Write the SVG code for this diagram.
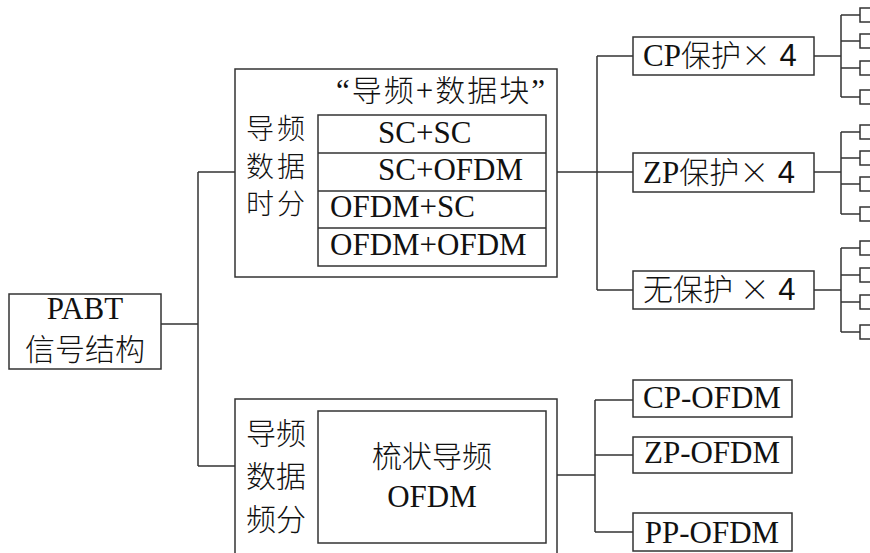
<svg xmlns="http://www.w3.org/2000/svg" width="870" height="553" viewBox="0 0 870 553">
<style>
.box{fill:#fff;stroke:#333;stroke-width:1.5}
.ln{fill:none;stroke:#333;stroke-width:1.5}
.lat{font-family:"Liberation Serif","Times New Roman",serif;font-size:31px;fill:#111}
.cjk{font-family:"Noto Sans CJK SC","Noto Sans",sans-serif;font-size:30px;fill:#111;font-weight:300}
.side{font-size:28px;letter-spacing:3px}
.num{font-family:"Liberation Sans",Arial,sans-serif;font-size:31px;fill:#111}
</style>
<rect width="870" height="553" fill="#fff"/>
<g id="connectors" class="ln">
<path d="M161 324H198M198 172V466M198 172H235M198 466H235"/>
<path d="M557 172H597M597 56V290M597 56H633M597 172H633M597 290H633"/>
<path d="M814 56H841M841 15V97M841 15H860M841 41H860M841 68H860M841 97H860"/>
<path d="M814 172H841M841 132V214M841 132H860M841 158H860M841 184H860M841 214H860"/>
<path d="M814 290H841M841 248V332M841 248H860M841 275H860M841 302H860M841 332H860"/>
<path d="M557 475H595M595 400V532M595 400H633M595 455H633M595 532H633"/>
</g>
<g id="pabt">
<rect class="box" x="9" y="294" width="152" height="75"/>
<text class="lat" x="85" y="319" text-anchor="middle">PABT</text>
<text class="cjk" x="85" y="360" text-anchor="middle">信号结构</text>
</g>
<g id="tdm">
<rect class="box" x="235" y="69" width="322" height="208"/>
<text x="336" y="101" textLength="209"><tspan class="lat">“</tspan><tspan class="cjk">导频</tspan><tspan class="lat">+</tspan><tspan class="cjk">数据块</tspan><tspan class="lat">”</tspan></text>
<text class="cjk side"><tspan x="246" y="139">导频</tspan><tspan x="246" y="177">数据</tspan><tspan x="246" y="214">时分</tspan></text>
<rect class="box" x="318" y="115" width="228" height="151"/>
<path class="ln" d="M318 153H546M318 191H546M318 228H546"/>
<text class="lat" x="378" y="143">SC+SC</text>
<text class="lat" x="378" y="180">SC+OFDM</text>
<text class="lat" x="330" y="217">OFDM+SC</text>
<text class="lat" x="330" y="255">OFDM+OFDM</text>
</g>
<g id="cp">
<rect class="box" x="633" y="37" width="181" height="38"/>
<text x="643" y="66"><tspan class="lat">CP</tspan><tspan class="cjk">保护×</tspan><tspan class="num"> 4</tspan></text>
</g>
<g id="zp">
<rect class="box" x="633" y="153" width="181" height="39"/>
<text x="643" y="183"><tspan class="lat">ZP</tspan><tspan class="cjk">保护×</tspan><tspan class="num"> 4</tspan></text>
</g>
<g id="np">
<rect class="box" x="633" y="271" width="181" height="38"/>
<text x="643" y="300"><tspan class="cjk">无保护 ×</tspan><tspan class="num"> 4</tspan></text>
</g>
<g id="leaves" class="box">
<rect x="860" y="8" width="20" height="14"/><rect x="860" y="34" width="20" height="14"/><rect x="860" y="61" width="20" height="14"/><rect x="860" y="90" width="20" height="14"/>
<rect x="860" y="125" width="20" height="14"/><rect x="860" y="151" width="20" height="14"/><rect x="860" y="177" width="20" height="14"/><rect x="860" y="207" width="20" height="14"/>
<rect x="860" y="241" width="20" height="14"/><rect x="860" y="268" width="20" height="14"/><rect x="860" y="295" width="20" height="14"/><rect x="860" y="325" width="20" height="14"/>
</g>
<g id="fdm">
<rect class="box" x="235" y="399" width="322" height="170"/>
<text class="cjk"><tspan x="246" y="444">导频</tspan><tspan x="246" y="487">数据</tspan><tspan x="246" y="530">频分</tspan></text>
<rect class="box" x="318" y="411" width="228" height="132"/>
<text class="cjk" x="432" y="467" text-anchor="middle">梳状导频</text>
<text class="lat" x="432" y="507" text-anchor="middle">OFDM</text>
</g>
<g id="cpofdm">
<rect class="box" x="633" y="380" width="159" height="37"/>
<text class="lat" x="712" y="408" text-anchor="middle">CP-OFDM</text>
</g>
<g id="zpofdm">
<rect class="box" x="633" y="437" width="159" height="36"/>
<text class="lat" x="712" y="463" text-anchor="middle">ZP-OFDM</text>
</g>
<g id="ppofdm">
<rect class="box" x="633" y="513" width="159" height="38"/>
<text class="lat" x="712" y="543" text-anchor="middle">PP-OFDM</text>
</g>
</svg>
